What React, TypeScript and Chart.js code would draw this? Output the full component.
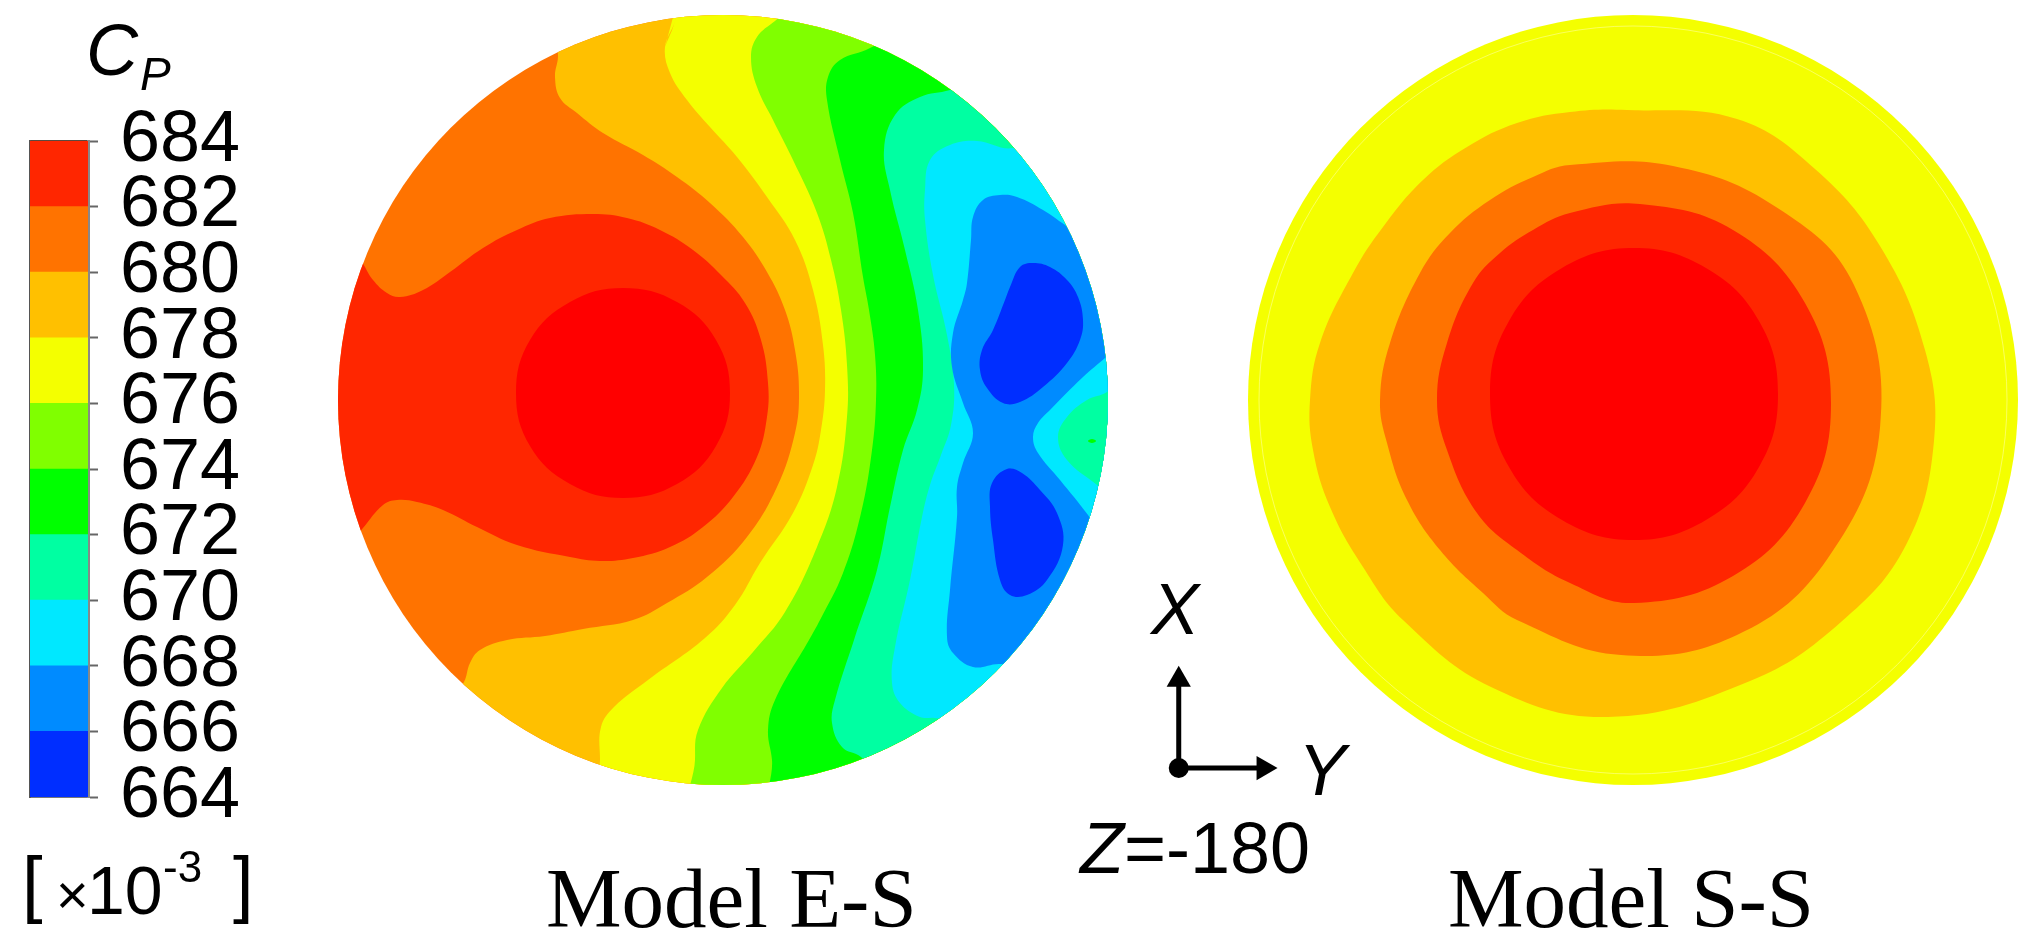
import React, { useEffect, useRef } from "react";
import { Chart, registerables } from "chart.js";

Chart.register(...registerables);

type P = [number, number];

// Colour scale
const levels = [664, 666, 668, 670, 672, 674, 676, 678, 680, 682, 684];
const bandColors = ["#002eff", "#008bff", "#00e8ff", "#00ffa2", "#00ff00", "#80ff00", "#f4ff00", "#ffc000", "#ff7300", "#ff2600"];
const peakColor = "#ff0000";

// Contour boundaries of Model E-S, offsets from the section centre (Y, X), section radius 385
const es678: P[] = [[-48,379],[-40,420],[420,420],[420,-420],[-123,-420],[-123,-360],[-122,-327],[-109,-307],[-75,-280],[-18,-238],[12,-205],[37,-163],[70,-113],[90,-65],[98,-30],[102,10],[100,55],[90,110],[72,160],[44,203],[14,243],[-13,273],[-36,300],[-53,327],[-58,353],[-48,379]];
const es682Left: P[] = [[-420,0],[-375,165],[-358,133],[-350,120],[-336,107],[-323,103],[-300,110],[-273,128],[-240,152],[-206,170],[-173,182],[-130,186],[-96,182],[-63,170],[-30,150],[-2,125],[22,97],[38,60],[45,17],[44,-17],[34,-57],[10,-97],[-20,-127],[-53,-147],[-90,-158],[-123,-161],[-153,-157],[-206,-145],[-246,-127],[-280,-110],[-306,-102],[-326,-100],[-340,-105],[-360,-128],[-383,-155],[-420,0]];
const es684Core: P[] = [[7,7],[-7,60],[-46,98],[-100,112],[-153,98],[-193,60],[-207,7],[-193,-46],[-153,-84],[-100,-98],[-46,-84],[-7,-46],[7,7]];
const es680: P[] = [[-163,420],[-165,343],[-168,323],[-163,302],[-146,287],[-120,267],[-80,245],[-46,223],[-13,197],[20,163],[44,128],[62,90],[72,50],[76,7],[72,-33],[54,-87],[24,-137],[-16,-177],[-56,-203],[-90,-220],[-140,-229],[-178,-236],[-216,-240],[-243,-250],[-253,-263],[-259,-282],[-283,-320],[-300,-420],[420,-420],[420,420],[-163,420]];
const es676: P[] = [[80,400],[52,379],[34,363],[28,343],[34,313],[50,280],[70,240],[94,187],[108,140],[118,90],[124,35],[124,-17],[114,-87],[94,-147],[62,-212],[30,-252],[-1,-288],[-25,-330],[-28,-360],[-28,-420],[420,-420],[420,420],[80,400]];
const es674: P[] = [[162,420],[162,365],[147,352],[117,340],[105,323],[104,300],[117,240],[130,187],[140,123],[146,90],[152,45],[153,0],[149,-50],[138,-113],[120,-173],[97,-220],[86,-240],[52,-300],[45,-330],[49,-360],[52,-420],[420,-420],[420,420],[162,420]];
const es672: P[] = [[237,420],[237,315],[227,310],[197,303],[172,285],[161,250],[167,210],[182,150],[195,90],[200,30],[194,-10],[180,-50],[167,-107],[154,-170],[131,-240],[112,-300],[109,-323],[119,-347],[138,-357],[157,-380],[420,-420],[420,420],[237,420]];
const es670: P[] = [[420,420],[307,270],[290,252],[254,259],[227,255],[207,240],[202,210],[202,180],[210,125],[224,65],[231,15],[228,-25],[218,-55],[207,-85],[199,-117],[187,-180],[172,-247],[169,-283],[177,-303],[197,-317],[212,-318],[250,-325],[420,-420],[420,420]];
const es668: P[] = [[420,200],[357,165],[342,175],[320,190],[294,203],[277,205],[260,200],[250,183],[248,160],[244,117],[240,100],[230,67],[229,33],[240,-3],[250,-33],[240,-63],[234,-87],[234,-117],[227,-190],[224,-237],[230,-253],[250,-267],[277,-264],[320,-270],[420,-300],[420,200]];
const es666Upper: P[] = [[310,137],[327,133],[344,120],[355,103],[360,80],[357,60],[344,37],[320,13],[297,-2],[280,-3],[264,12],[257,30],[259,50],[270,70],[282,100],[287,113],[297,133],[310,137]];
const es666Lower: P[] = [[284,-69],[299,-73],[317,-90],[334,-113],[340,-145],[324,-180],[304,-195],[287,-195],[277,-180],[270,-140],[267,-107],[269,-83],[284,-69]];
const es670Wedge: P[] = [[402,60],[382,42],[360,23],[327,-10],[315,-23],[310,-37],[315,-53],[337,-80],[365,-115],[382,-140],[430,-50],[402,60]];
const es672Island: P[] = [[402,25],[384,8],[364,0],[344,-17],[335,-37],[344,-60],[374,-85],[392,-100],[430,-40],[402,25]];
const es674Dot: P[] = [[365,-41],[369,-39],[373,-41],[369,-43],[365,-41]];

// Contour boundaries of Model S-S
const ss680: P[] = [[-6,290],[104,281],[182,231],[247,154],[292,50],[301,-41],[273,-145],[208,-222],[117,-281],[-25,-317],[-142,-287],[-230,-220],[-270,-167],[-303,-107],[-320,-50],[-323,0],[-313,57],[-280,127],[-250,173],[-210,220],[-166,253],[-116,277],[-63,288],[-6,290]];
const ss682: P[] = [[-12,-255],[104,-235],[195,-158],[247,-28],[221,115],[143,193],[40,234],[-63,235],[-100,223],[-143,200],[-183,167],[-213,127],[-243,57],[-253,0],[-246,-43],[-226,-100],[-193,-150],[-150,-193],[-116,-220],[-12,-255]];
const ss684: P[] = [[198,-3],[172,97],[100,170],[7,196],[-63,187],[-100,170],[-133,147],[-160,117],[-186,57],[-196,0],[-186,-50],[-156,-113],[-116,-150],[-63,-183],[1,-203],[100,-176],[172,-103],[198,-3]];
const ssCore: P[] = [[145,6],[126,79],[73,132],[1,152],[-71,132],[-124,79],[-143,6],[-124,-67],[-71,-120],[1,-140],[73,-120],[126,-67],[145,6]];
const wholeSection: P[] = [[-420,-420],[420,-420],[420,420],[-420,420],[-420,-420]];

const sectionRadius = 385;
const ssRimRadius = 374;

const esLayers: [P[], string][] = [
  [wholeSection, bandColors[8]],
  [es682Left, bandColors[9]],
  [es684Core, peakColor],
  [es680, bandColors[7]],
  [es678, bandColors[6]],
  [es676, bandColors[5]],
  [es674, bandColors[4]],
  [es672, bandColors[3]],
  [es670, bandColors[2]],
  [es668, bandColors[1]],
  [es666Upper, bandColors[0]],
  [es666Lower, bandColors[0]],
  [es670Wedge, bandColors[2]],
  [es672Island, bandColors[3]],
  [es674Dot, bandColors[4]],
];
const ssLayers: [P[], string][] = [
  [wholeSection, bandColors[6]],
  [ss680, bandColors[7]],
  [ss682, bandColors[8]],
  [ss684, bandColors[9]],
  [ssCore, peakColor],
];

const sans = '"Liberation Sans", Arial, sans-serif';
const serif = '"Liberation Serif", "Times New Roman", serif';
const annotations = [
  { text: "C", x: 86, y: 75, font: `italic 72px ${sans}` },
  { text: "P", x: 140, y: 90, font: `italic 46px ${sans}` },
  { text: "[", x: 22, y: 909, font: `74px ${sans}` },
  { text: "×", x: 56, y: 914, font: `56px ${sans}` },
  { text: "10", x: 87, y: 914, font: `68px ${sans}` },
  { text: "-3", x: 163, y: 882, font: `44px ${sans}` },
  { text: "]", x: 233, y: 909, font: `74px ${sans}` },
  { text: "X", x: 1151, y: 634, font: `italic 72px ${sans}` },
  { text: "Y", x: 1298, y: 795, font: `italic 72px ${sans}` },
  { text: "Z", x: 1080, y: 873, font: `italic 72px ${sans}` },
  { text: "=-180", x: 1124, y: 873, font: `72px ${sans}` },
  { text: "Model E-S", x: 546, y: 927, font: `85px ${serif}` },
  { text: "Model S-S", x: 1448, y: 927, font: `85px ${serif}` },
];

// Coordinate triad, in page units of the overlay chart
const triadOrigin: P = [1181, 777];
const triadXTip: P = [1181, 686];
const triadYTip: P = [1267, 777];

function pts(list: P[]) {
  return list.map(([x, y]) => ({ x, y }));
}

// A closed contour is traced past its join so the spline has neighbours on both sides of it
function loopPts(list: P[]) {
  const n = list.length;
  const closed = n > 3 && list[0][0] === list[n - 1][0] && list[0][1] === list[n - 1][1];
  return pts(closed ? [list[n - 2], ...list, list[1]] : list);
}

const clipToSection = {
  id: "clipToSection",
  beforeDatasetsDraw(chart: any) {
    const { ctx, scales } = chart;
    const cx = scales.x.getPixelForValue(0);
    const cy = scales.y.getPixelForValue(0);
    const r = scales.x.getPixelForValue(sectionRadius) - cx;
    ctx.save();
    ctx.beginPath();
    ctx.arc(cx, cy, r, 0, Math.PI * 2);
    ctx.clip();
  },
  afterDatasetsDraw(chart: any) {
    chart.ctx.restore();
  },
};

const ssRim = {
  id: "ssRim",
  afterDatasetsDraw(chart: any) {
    const { ctx, scales } = chart;
    const cx = scales.x.getPixelForValue(0);
    const cy = scales.y.getPixelForValue(0);
    const r = scales.x.getPixelForValue(ssRimRadius) - cx;
    ctx.save();
    ctx.beginPath();
    ctx.arc(cx, cy, r, 0, Math.PI * 2);
    ctx.strokeStyle = "rgba(255,255,170,0.55)";
    ctx.lineWidth = 1;
    ctx.stroke();
    ctx.restore();
  },
};

const annotationText = {
  id: "annotationText",
  afterDraw(chart: any) {
    const { ctx } = chart;
    ctx.save();
    ctx.fillStyle = "#000";
    ctx.textBaseline = "alphabetic";
    ctx.textAlign = "left";
    annotations.forEach((a) => {
      ctx.font = a.font;
      ctx.fillText(a.text, a.x, a.y);
    });
    ctx.restore();
  },
};

const hiddenScale = (min: number, max: number, reverse = false) => ({
  type: "linear" as const,
  display: false,
  min,
  max,
  reverse,
});

const baseOptions = {
  responsive: false,
  animation: false as const,
  devicePixelRatio: 1,
  events: [] as any[],
  plugins: { legend: { display: false }, tooltip: { enabled: false } },
};

function makeSection(canvas: HTMLCanvasElement, layers: [P[], string][], extra: any[] = []) {
  const n = layers.length;
  return new Chart(canvas, {
    type: "scatter",
    data: {
      datasets: layers.map(([list, color], i) => ({
        data: list === wholeSection ? pts(list) : loopPts(list),
        showLine: true,
        fill: "shape",
        backgroundColor: color,
        borderWidth: 0,
        borderColor: color,
        pointRadius: 0,
        tension: list === wholeSection ? 0 : 0.4,
        capBezierPoints: false,
        order: n - i,
      })),
    } as any,
    options: {
      ...baseOptions,
      layout: { padding: 0 },
      scales: {
        x: hiddenScale(-sectionRadius, sectionRadius),
        y: hiddenScale(-sectionRadius, sectionRadius),
      },
    } as any,
    plugins: [clipToSection, ...extra],
  });
}

function makeColorbar(canvas: HTMLCanvasElement) {
  return new Chart(canvas, {
    type: "bar",
    data: {
      labels: ["CP"],
      datasets: bandColors.map((color, i) => ({
        data: [[levels[i], levels[i + 1]]],
        backgroundColor: color,
        borderWidth: 0,
        grouped: false,
        barPercentage: 1,
        categoryPercentage: 1,
      })),
    } as any,
    options: {
      ...baseOptions,
      layout: { padding: { left: 30, top: 141, bottom: 151, right: 0 } },
      scales: {
        x: {
          position: "top",
          ticks: { display: false },
          grid: { display: false, drawTicks: false },
          border: { color: "#5a4a40", width: 2 },
        },
        xb: {
          type: "linear",
          position: "bottom",
          min: 0,
          max: 1,
          ticks: { display: false },
          grid: { display: false, drawTicks: false },
          border: { color: "#777", width: 2 },
        },
        y: {
          position: "right",
          min: levels[0],
          max: levels[levels.length - 1],
          ticks: {
            stepSize: 2,
            autoSkip: false,
            color: "#000",
            padding: 22,
            font: { family: "Liberation Sans", size: 72 },
          },
          grid: { drawOnChartArea: false, tickLength: 10, tickColor: "#666", tickWidth: 2 },
          border: { color: "#888", width: 3 },
          afterFit(scale: any) {
            scale.width = 172;
          },
        },
        yl: {
          position: "left",
          min: levels[0],
          max: levels[levels.length - 1],
          ticks: { display: false },
          grid: { display: false, drawTicks: false },
          border: { color: "#555", width: 2 },
          afterFit(scale: any) {
            scale.width = 0;
          },
        },
      },
    } as any,
  });
}

function makeOverlay(canvas: HTMLCanvasElement) {
  const line = (tip: P) => ({
    data: pts([triadOrigin, tip]),
    showLine: true,
    borderColor: "#000",
    borderWidth: 5,
    pointRadius: 0,
  });
  const head = (tip: P, rotation: number) => ({
    data: pts([tip]),
    pointStyle: "triangle",
    rotation,
    pointRadius: 14,
    pointBackgroundColor: "#000",
    pointBorderWidth: 0,
  });
  return new Chart(canvas, {
    type: "scatter",
    data: {
      datasets: [
        {
          data: pts([triadOrigin]),
          pointRadius: 10,
          pointBackgroundColor: "#000",
          pointBorderWidth: 0,
        },
        head(triadXTip, 0),
        head(triadYTip, 90),
        line(triadXTip),
        line(triadYTip),
      ],
    } as any,
    options: {
      ...baseOptions,
      layout: { padding: 0 },
      scales: { x: hiddenScale(0, 2033), y: hiddenScale(0, 948, true) },
    } as any,
    plugins: [annotationText],
  });
}

const abs = (left: number, top: number, width: number, height: number): React.CSSProperties => ({
  position: "absolute",
  left,
  top,
  width,
  height,
  display: "block",
});

export default function App() {
  const es = useRef<HTMLCanvasElement>(null);
  const ss = useRef<HTMLCanvasElement>(null);
  const bar = useRef<HTMLCanvasElement>(null);
  const over = useRef<HTMLCanvasElement>(null);

  useEffect(() => {
    const charts = [
      makeSection(es.current!, esLayers),
      makeSection(ss.current!, ssLayers, [ssRim]),
      makeColorbar(bar.current!),
      makeOverlay(over.current!),
    ];
    return () => charts.forEach((c) => c.destroy());
  }, []);

  return (
    <div style={{ ...abs(0, 0, 2033, 948), background: "#fff", overflow: "hidden" }}>
      <canvas ref={es} width={770} height={770} style={abs(338, 15, 770, 770)} />
      <canvas ref={ss} width={770} height={770} style={abs(1248, 15, 770, 770)} />
      <canvas ref={bar} width={260} height={948} style={abs(0, 0, 260, 948)} />
      <canvas ref={over} width={2033} height={948} style={abs(0, 0, 2033, 948)} />
    </div>
  );
}
